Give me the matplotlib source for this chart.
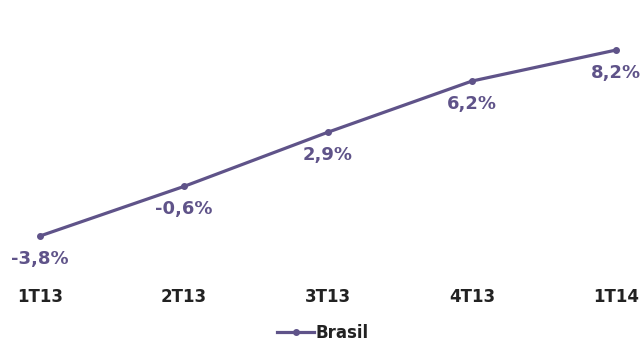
import matplotlib.pyplot as plt

quarters = ['1T13', '2T13', '3T13', '4T13', '1T14']
brasil = [-3.8, -0.6, 2.9, 6.2, 8.2]
labels = ['-3,8%', '-0,6%', '2,9%', '6,2%', '8,2%']

color = '#5f5389'

fig = plt.figure(figsize=(6.43, 3.41), dpi=100)
ax = fig.add_axes([40 / 643, 1 - 280 / 341, 576 / 643, 260 / 341])

x = range(len(quarters))
ax.plot(x, brasil, color=color, linewidth=2.3, marker='o', markersize=4,
        label='Brasil', clip_on=False)

for i, (v, t) in enumerate(zip(brasil, labels)):
    ax.annotate(t, (i, v), xytext=(0, -10), textcoords='offset points',
                ha='center', va='top', fontsize=13, fontweight='bold', color=color)

ax.set_xlim(0, 4)
ax.set_ylim(-6.64, 10.14)
ax.set_xticks(list(x))
ax.set_xticklabels(quarters, fontsize=12, fontweight='bold', color='#222222')
ax.tick_params(axis='x', length=0, pad=6)
ax.set_yticks([])
for s in ax.spines.values():
    s.set_visible(False)

leg = fig.legend(loc='center', bbox_to_anchor=(323 / 643, 1 - 333 / 341), frameon=False,
                 prop={'size': 12, 'weight': 'bold'}, handlelength=2.2, handletextpad=0.1)
for txt in leg.get_texts():
    txt.set_color('#222222')

plt.savefig('out.png', dpi=100)
